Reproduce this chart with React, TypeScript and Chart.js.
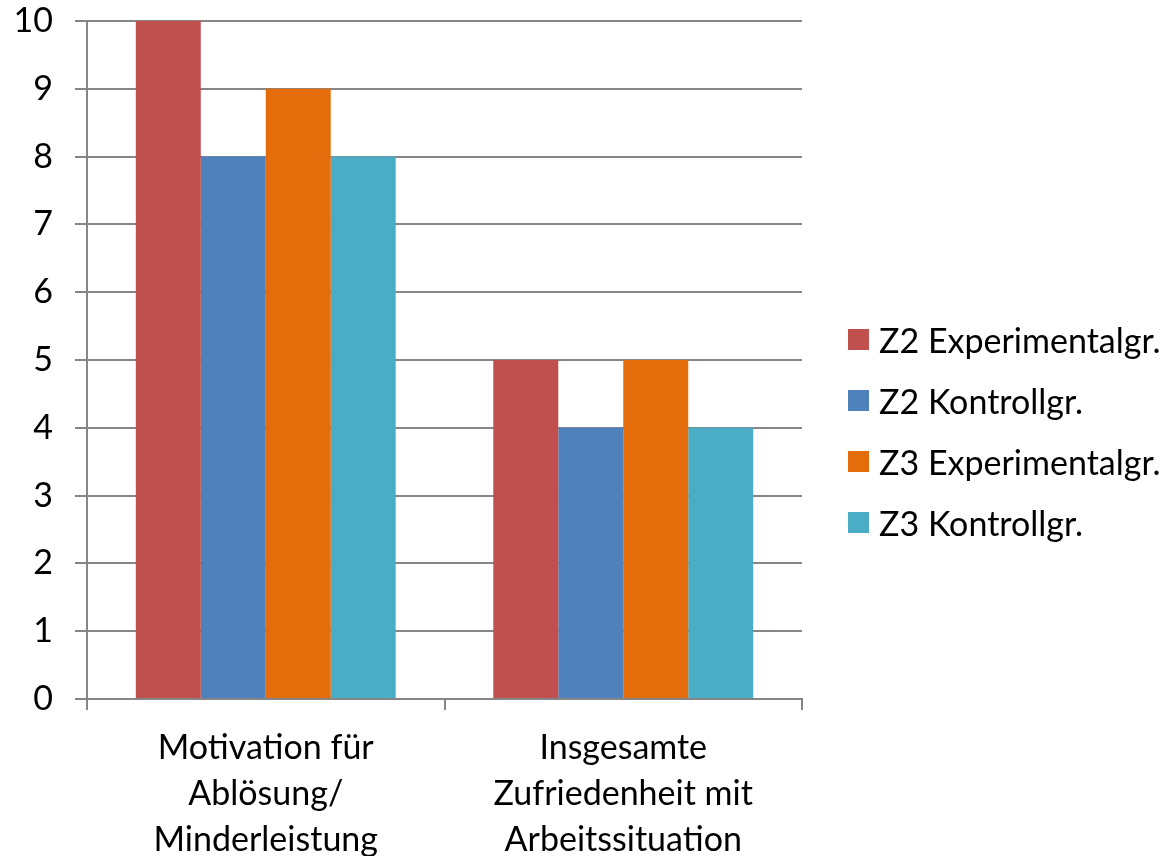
import React, { useEffect, useRef } from "react";
import { Chart, registerables } from "chart.js";

Chart.register(...registerables);

const categories: string[][] = [
  ["Motivation für", "Ablösung/", "Minderleistung"],
  ["Insgesamte", "Zufriedenheit mit", "Arbeitssituation"],
];
const seriesNames = ["Z2 Experimentalgr.", "Z2 Kontrollgr.", "Z3 Experimentalgr.", "Z3 Kontrollgr."];
const z2Experimental = [10, 5];
const z2Kontroll = [8, 4];
const z3Experimental = [9, 5];
const z3Kontroll = [8, 4];
const seriesColors = ["#C0504D", "#4F81BD", "#E46C0A", "#4BACC6"];
const yTicks = [0, 10, 1];

const FONT = "Lato";
const FS = 34;

export default function App() {
  const ref = useRef<HTMLCanvasElement>(null);
  useEffect(() => {
    document.body.style.margin = "0";
    const values = [z2Experimental, z2Kontroll, z3Experimental, z3Kontroll];
    const chart = new Chart(ref.current!, {
      type: "bar",
      data: {
        labels: categories,
        datasets: values.map((v, i) => ({
          label: seriesNames[i],
          data: v,
          backgroundColor: seriesColors[i],
          borderWidth: 0,
          categoryPercentage: 0.727,
          barPercentage: 1,
        })),
      },
      options: {
        animation: false,
        responsive: false,
        layout: { autoPadding: false, padding: { top: 21, right: 367, left: 0, bottom: 0 } },
        plugins: { legend: { display: false }, tooltip: { enabled: false } },
        scales: {
          x: {
            afterFit: (s: any) => { s.height = 157; s.paddingLeft = 0; s.paddingRight = 0; },
            grid: { display: true, drawOnChartArea: false, drawTicks: true, tickLength: 11, color: "#868686", lineWidth: 2, offset: true },
            border: { display: true, color: "#868686", width: 2 },
            ticks: { color: "#000", font: { family: FONT, size: FS, lineHeight: 1.35 }, padding: 15, maxRotation: 0 },
          },
          y: {
            min: yTicks[0],
            max: yTicks[1],
            afterFit: (s: any) => { s.width = 87; s.paddingTop = 0; s.paddingBottom = 0; },
            grid: { color: "#868686", lineWidth: 2, drawTicks: true, tickLength: 12 },
            border: { display: true, color: "#868686", width: 2 },
            ticks: { stepSize: yTicks[2], color: "#000", font: { family: FONT, size: FS }, padding: 22 },
          },
        },
      },
    });
    return () => chart.destroy();
  }, []);
  return (
    <div style={{ position: "absolute", left: 0, top: 0, width: 1169, height: 856, background: "#fff" }}>
      <canvas ref={ref} width={1169} height={856} style={{ width: 1169, height: 856 }} />
      {seriesNames.map((n, i) => (
        <div key={n} style={{ position: "absolute", left: 848, top: 329 + i * 61, height: 21, display: "flex", alignItems: "center", whiteSpace: "nowrap" }}>
          <div style={{ width: 21, height: 21, background: seriesColors[i], flex: "none" }} />
          <span style={{ marginLeft: 10, fontFamily: FONT, fontSize: FS, color: "#000", lineHeight: "21px" }}>{n}</span>
        </div>
      ))}
    </div>
  );
}
